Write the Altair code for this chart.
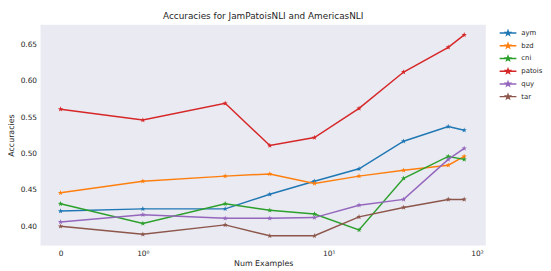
import altair as alt
import pandas as pd

num_examples = [0, 1, 2, 4, 8, 16, 32, 64, 82]
aym = [0.421, 0.424, 0.424, 0.444, 0.462, 0.479, 0.517, 0.537, 0.532]
bzd = [0.446, 0.462, 0.469, 0.472, 0.459, 0.469, 0.477, 0.484, 0.496]
cni = [0.431, 0.404, 0.431, 0.422, 0.417, 0.395, 0.466, 0.496, 0.492]
patois = [0.561, 0.546, 0.569, 0.511, 0.522, 0.562, 0.612, 0.646, 0.663]
quy = [0.406, 0.416, 0.411, 0.411, 0.412, 0.429, 0.437, 0.492, 0.507]
tar = [0.400, 0.389, 0.402, 0.387, 0.387, 0.413, 0.426, 0.437, 0.437]

series_names = ["aym", "bzd", "cni", "patois", "quy", "tar"]
series_values = [aym, bzd, cni, patois, quy, tar]
colors = ["#1f77b4", "#ff7f0e", "#2ca02c", "#d62728", "#9467bd", "#8c564b"]

rows = []
for name, vals in zip(series_names, series_values):
    for n, v in zip(num_examples, vals):
        rows.append({"n": n, "acc": v, "lang": name})
df = pd.DataFrame(rows)

STAR_PTS = [(0, -1), (0.235, -0.324), (0.951, -0.309), (0.380, 0.124), (0.588, 0.809),
            (0, 0.4), (-0.588, 0.809), (-0.380, 0.124), (-0.951, -0.309), (-0.235, -0.324)]


def star_path(s):
    return "M" + "L".join(f"{x*s:.3f},{y*s:.3f}" for x, y in STAR_PTS) + "Z"


STAR = star_path(1.0)
LEGEND_SYMBOL = "M-3.4,0L3.4,0" + star_path(0.9)

# matplotlib-style symlog (linthresh=2, linscale=1), expressed in decades
symlog_expr = "datum.n <= 2 ? datum.n * 1.11111 / 2 : 1.11111 + log(datum.n / 2) / LN10"
tick_pos = [0, 0.555556, 1.11111 + 0.69897, 1.11111 + 1.69897]
label_expr = ("datum.value < 0.1 ? '0' : datum.value < 1 ? '10\u2070' : "
              "datum.value < 2 ? '10\u00b9' : '10\u00b2'")

color = alt.Color(
    "lang:N",
    scale=alt.Scale(domain=series_names, range=colors),
    legend=alt.Legend(
        title=None,
        orient="none",
        legendX=471,
        legendY=5,
        symbolType=LEGEND_SYMBOL,
        symbolSize=25,
        symbolStrokeWidth=1.5,
        labelFontSize=7,
        labelFont="DejaVu Sans",
        labelColor="#262626",
        labelOffset=10,
        rowPadding=1.9,
        padding=0,
    ),
)

x_enc = alt.X(
    "t:Q",
    scale=alt.Scale(domain=[-0.135, 2.870], nice=False, zero=False),
    axis=alt.Axis(values=tick_pos, labelExpr=label_expr, title="Num Examples"),
)
y_enc = alt.Y(
    "acc:Q",
    scale=alt.Scale(domain=[0.3738, 0.677], nice=False, zero=False),
    axis=alt.Axis(values=[0.40, 0.45, 0.50, 0.55, 0.60, 0.65], format=".2f", title="Accuracies"),
)

base = alt.Chart(df).transform_calculate(t=symlog_expr)

lines = base.mark_line(strokeWidth=1.5).encode(x=x_enc, y=y_enc, color=color,
                                                 order=alt.Order("n:Q"))
points = base.mark_point(shape=STAR, filled=True, size=32, opacity=1).encode(
    x=x_enc, y=y_enc,
    color=alt.Color("lang:N", scale=alt.Scale(domain=series_names, range=colors), legend=None),
)

chart = alt.layer(lines, points).properties(
    width=452,
    height=224,
    title=alt.Title("Accuracies for JamPatoisNLI and AmericasNLI", fontSize=9,
                    font="DejaVu Sans", fontWeight="normal", color="#262626", offset=4),
    autosize=alt.AutoSizeParams(type="none"),
    padding={"left": 33, "top": 15, "right": 58, "bottom": 23},
).configure_view(
    fill="#EAEAF2", stroke=None
).configure_axis(
    grid=False, domain=False, ticks=False,
    labelFont="DejaVu Sans", labelFontSize=7.5, labelColor="#262626", labelPadding=4,
    titleFont="DejaVu Sans", titleFontSize=8, titleFontWeight="normal", titleColor="#262626",
).configure_axisX(titlePadding=3).configure_axisY(titlePadding=5)

chart.save("out.html", embed_options={"renderer": "svg", "actions": False})
